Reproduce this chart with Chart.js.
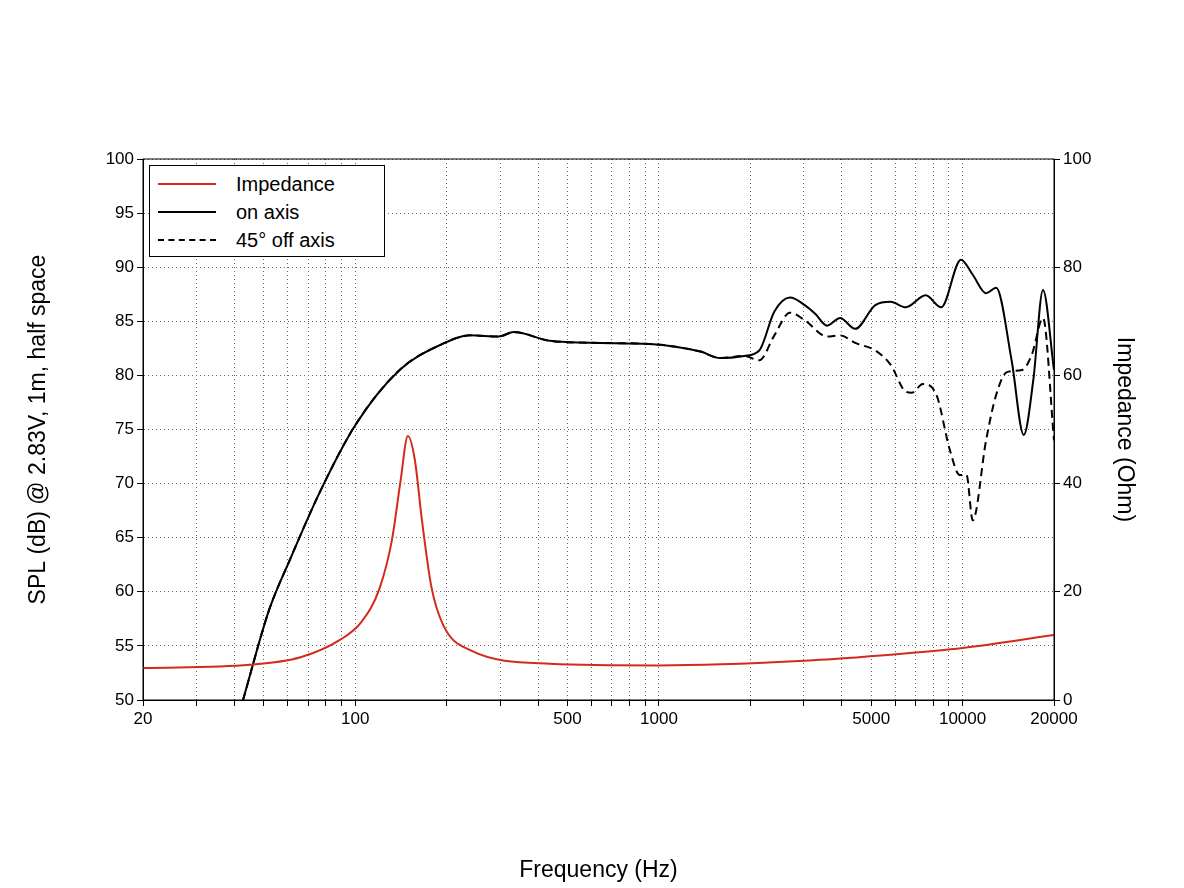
<!DOCTYPE html>
<html>
<head>
<meta charset="utf-8">
<script src="https://cdn.jsdelivr.net/npm/chart.js@4"></script>
<style>
  body { margin: 0; background: #fff; font-family: "Liberation Sans", Arial, sans-serif; }
  #wrap { position: relative; width: 1184px; height: 888px; }
  #legend { position: absolute; left: 149px; top: 165px; width: 236px; height: 92px; border: 1px solid #000; background: #fff; font-size: 20px; box-sizing: border-box; }
  .row { position: absolute; left: 8px; height: 28px; display: flex; align-items: center; }
  .row span.l { display: inline-block; width: 58px; height: 0; margin-right: 20px; }
</style>
</head>
<body>
<div id="wrap">
  <canvas id="c" width="1184" height="888"></canvas>
  <div id="legend">
    <div class="row" style="top:4px"><span class="l" style="border-top:2px solid #d42a1e"></span>Impedance</div>
    <div class="row" style="top:32px"><span class="l" style="border-top:2px solid #000"></span>on axis</div>
    <div class="row" style="top:60px"><span class="l" style="border-top:2px dashed #000"></span>45° off axis</div>
  </div>
</div>
<script>
// frequency response
const onFreq = [42.7, 52, 61, 77, 100, 140, 190, 239, 297, 333, 437, 640, 935, 1370, 1590, 1910, 2140, 2400, 2700, 3020, 3270, 3580, 3950, 4430, 5160, 5790, 6500, 7560, 8500, 9880, 10800, 11950, 12900, 14500, 15900, 17100, 18400, 20000];
const onSpl = [50, 58.3, 63, 69.4, 75.4, 80.5, 82.8, 83.7, 83.6, 84.0, 83.2, 83.0, 82.9, 82.2, 81.6, 81.8, 82.3, 85.9, 87.2, 86.5, 85.7, 84.6, 85.3, 84.3, 86.5, 86.8, 86.3, 87.4, 86.3, 90.7, 89.3, 87.6, 88.1, 81.4, 74.5, 79.6, 87.9, 80.5];

const offFreq = [42.7, 52, 61, 77, 100, 140, 190, 239, 297, 333, 437, 640, 935, 1370, 1590, 1910, 2140, 2400, 2700, 3020, 3580, 3950, 4430, 5160, 5790, 6500, 6800, 7400, 8200, 9080, 9780, 10300, 10800, 11950, 12900, 14000, 15700, 16900, 18400, 20000];
const offSpl = [50, 58.3, 63, 69.4, 75.4, 80.5, 82.8, 83.7, 83.6, 84.0, 83.2, 83.0, 82.9, 82.2, 81.6, 81.8, 81.4, 83.7, 85.8, 85.1, 83.6, 83.7, 83.0, 82.3, 81.0, 78.5, 78.4, 79.2, 78.2, 73.1, 70.8, 70.8, 66.6, 74.0, 78.2, 80.3, 80.5, 81.9, 85.3, 74.0];

const impFreq = [20, 45, 66, 89, 105, 120, 132, 141, 149, 157, 166, 178, 195, 239, 437, 1000, 2900, 6200, 10000, 20000];
const impOhm = [5.9, 6.5, 7.9, 11.1, 14.5, 20.5, 29.5, 40.5, 48.8, 44.5, 33, 21, 13.8, 9.2, 6.7, 6.4, 7.2, 8.5, 9.6, 12];

const xLabels = [20, 100, 500, 1000, 5000, 10000, 20000];
const xGrid = [20,30,40,50,60,70,80,90,100,200,300,400,500,600,700,800,900,1000,2000,3000,4000,5000,6000,7000,8000,9000,10000,20000];

const pts = (xs, ys) => xs.map((x, i) => ({ x: x, y: ys[i] }));
const font = { family: "'Liberation Sans', Arial, sans-serif", size: 17 };
const titleFont = { family: "'Liberation Sans', Arial, sans-serif", size: 23 };

const frame = {
  id: 'frame',
  afterDraw(chart) {
    const a = chart.chartArea, ctx = chart.ctx;
    ctx.save();
    ctx.strokeStyle = '#000';
    ctx.lineWidth = 1;
    ctx.strokeRect(a.left, a.top, a.right - a.left, a.bottom - a.top);
    ctx.restore();
  }
};

new Chart(document.getElementById('c'), {
  type: 'scatter',
  data: {
    datasets: [
      { label: 'Impedance', data: pts(impFreq, impOhm), yAxisID: 'y1', borderColor: '#d42a1e', borderWidth: 2 },
      { label: 'on axis', data: pts(onFreq, onSpl), yAxisID: 'y', borderColor: '#000', borderWidth: 2 },
      { label: '45° off axis', data: pts(offFreq, offSpl), yAxisID: 'y', borderColor: '#000', borderWidth: 2, borderDash: [8, 5] }
    ]
  },
  options: {
    responsive: false,
    animation: false,
    showLine: true,
    elements: { point: { radius: 0 }, line: { tension: 0.4, cubicInterpolationMode: 'monotone' } },
    layout: { padding: { top: 159, left: 0, right: 0, bottom: 0 } },
    plugins: { legend: { display: false }, tooltip: { enabled: false } },
    scales: {
      x: {
        type: 'logarithmic', min: 20, max: 20000,
        afterBuildTicks: s => { s.ticks = xGrid.map(v => ({ value: v })); },
        afterFit: s => { s.height = 188; },
        ticks: { autoSkip: false, maxRotation: 0, color: '#000', font: font,
                 callback: v => xLabels.includes(v) ? String(v) : '' },
        grid: { color: '#666', tickLength: 6, tickColor: '#000' },
        border: { color: '#000', dash: [1, 3] },
        title: { display: true, text: 'Frequency (Hz)', color: '#000', font: titleFont, padding: { top: 128 } }
      },
      y: {
        position: 'left', min: 50, max: 100,
        afterFit: s => { s.width = 143; },
        ticks: { stepSize: 5, color: '#000', font: font },
        grid: { color: '#666', tickLength: 6, tickColor: '#000' },
        border: { color: '#000', dash: [1, 3] },
        title: { display: true, text: 'SPL (dB) @ 2.83V, 1m, half space', color: '#000', font: titleFont, padding: { top: 25 } }
      },
      y1: {
        position: 'right', min: 0, max: 100,
        afterFit: s => { s.width = 130; },
        ticks: { stepSize: 20, color: '#000', font: font },
        grid: { drawOnChartArea: false, tickLength: 6, tickColor: '#000' },
        border: { color: '#000' },
        title: { display: true, text: 'Impedance (Ohm)', color: '#000', font: titleFont, padding: { top: 46 } }
      }
    }
  },
  plugins: [frame]
});
</script>
</body>
</html>
